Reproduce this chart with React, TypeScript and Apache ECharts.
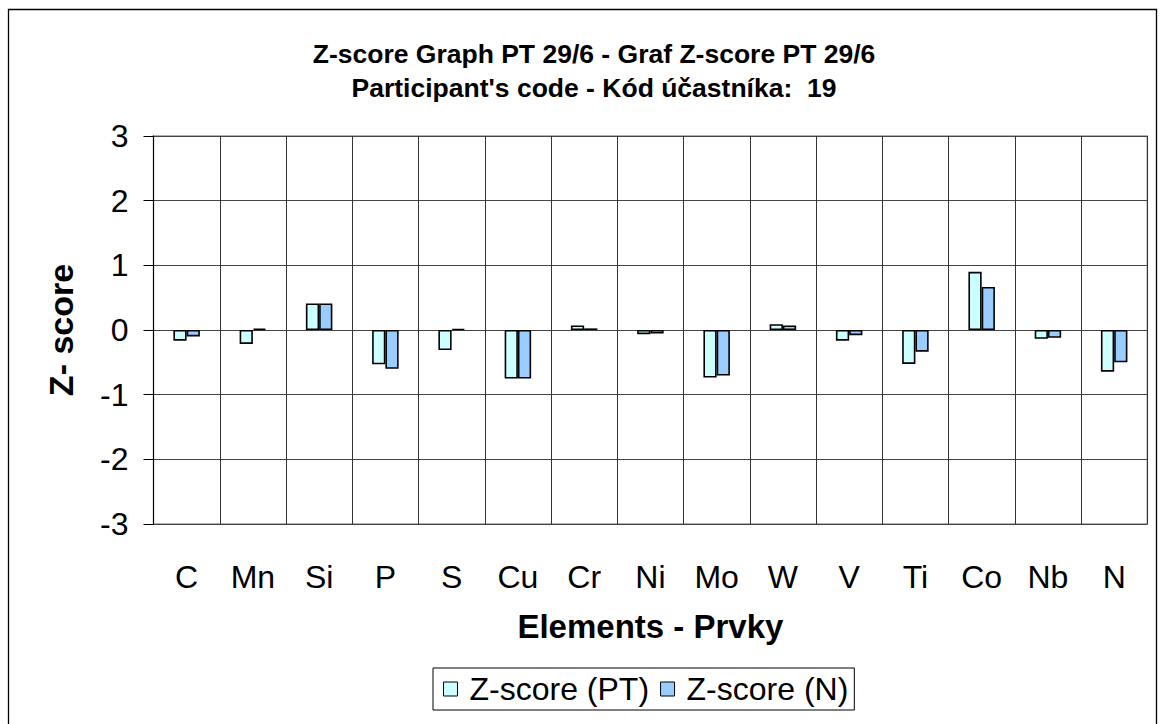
import React, { useEffect, useRef } from "react";
import * as echarts from "echarts";

const categories = ["C", "Mn", "Si", "P", "S", "Cu", "Cr", "Ni", "Mo", "W", "V", "Ti", "Co", "Nb", "N"];
const zscorePT = [-0.165, -0.215, 0.41, -0.53, -0.31, -0.75, 0.07, -0.065, -0.735, 0.09, -0.165, -0.525, 0.9, -0.135, -0.645];
const zscoreN = [-0.1, 0.02, 0.41, -0.6, 0.015, -0.75, 0.025, -0.055, -0.705, 0.07, -0.08, -0.335, 0.665, -0.12, -0.5];
const seriesNames = ["Z-score (PT)", "Z-score (N)"];
const titleLines = ["Z-score Graph PT 29/6 - Graf Z-score PT 29/6", "Participant's code - Kód účastníka:  19"];
const xAxisTitle = "Elements - Prvky";
const yAxisTitle = "Z- score";

const FONT = "'Liberation Sans', Arial, Helvetica, sans-serif";

export default function App() {
  const ref = useRef<HTMLDivElement>(null);
  useEffect(() => {
    if (!ref.current) return;
    const chart = echarts.init(ref.current, null, { renderer: "svg" });
    chart.setOption({
      animation: false,
      backgroundColor: "#ffffff",
      textStyle: { fontFamily: FONT },
      graphic: [
        {
          type: "rect",
          shape: { x: 8.5, y: 9.5, width: 1148, height: 800 },
          style: { fill: "none", stroke: "#000", lineWidth: 1.3 },
          silent: true,
          z: -10,
        },
        {
          type: "text",
          x: 594,
          y: 54,
          style: {
            text: titleLines[0],
            fontSize: 26.5,
            fontWeight: "bold",
            fontFamily: FONT,
            fill: "#000",
            textAlign: "center",
            textVerticalAlign: "middle",
          },
        },
        {
          type: "text",
          x: 594,
          y: 88,
          style: {
            text: titleLines[1],
            fontSize: 26.5,
            fontWeight: "bold",
            fontFamily: FONT,
            fill: "#000",
            textAlign: "center",
            textVerticalAlign: "middle",
          },
        },
      ],
      legend: {
        data: seriesNames,
        left: 433,
        top: 668,
        orient: "horizontal",
        padding: [5, 6, 5, 10],
        itemWidth: 14,
        itemHeight: 14,
        itemGap: 11,
        icon: "rect",
        borderColor: "#000",
        borderWidth: 1,
        backgroundColor: "#fff",
        itemStyle: { borderColor: "#000", borderWidth: 1 },
        textStyle: { fontSize: 32, color: "#000", fontFamily: FONT, padding: [0, 0, 0, 7] },
      },
      grid: {
        left: 153.5,
        right: 16.7,
        top: 136,
        bottom: 200,
        show: true,
        borderColor: "#999",
        borderWidth: 1.5,
        backgroundColor: "transparent",
      },
      xAxis: {
        type: "category",
        data: categories,
        name: xAxisTitle,
        nameLocation: "middle",
        nameGap: 86,
        nameTextStyle: { fontSize: 33, fontWeight: "bold", color: "#000", fontFamily: FONT },
        axisLine: { show: false, onZero: false },
        axisTick: { show: false },
        axisLabel: { fontSize: 32, color: "#000", margin: 37, fontFamily: FONT },
        splitLine: { show: true, lineStyle: { color: "#333", width: 1 } },
      },
      yAxis: {
        type: "value",
        min: -3,
        max: 3,
        interval: 1,
        name: yAxisTitle,
        nameLocation: "middle",
        nameGap: 76,
        nameTextStyle: { fontSize: 34, fontWeight: "bold", color: "#000", fontFamily: FONT },
        axisLine: { show: true, lineStyle: { color: "#000", width: 1 } },
        axisTick: { show: true, length: 10, lineStyle: { color: "#000" } },
        axisLabel: { fontSize: 32, color: "#000", margin: 25, fontFamily: FONT },
        splitLine: { show: true, lineStyle: { color: "#444", width: 1 } },
      },
      series: [
        {
          name: seriesNames[0],
          type: "bar",
          data: zscorePT,
          barWidth: "20%",
          barGap: "0%",
          itemStyle: { color: "#CCFFFF", borderColor: "#000", borderWidth: 1.6 },
        },
        {
          name: seriesNames[1],
          type: "bar",
          data: zscoreN,
          barWidth: "20%",
          barGap: "0%",
          itemStyle: { color: "#99CCFF", borderColor: "#000", borderWidth: 1.6 },
        },
      ],
    });
    return () => chart.dispose();
  }, []);
  return (
    <div
      ref={ref}
      style={{ position: "fixed", left: 0, top: 0, width: 1164, height: 724, background: "#fff" }}
    />
  );
}
